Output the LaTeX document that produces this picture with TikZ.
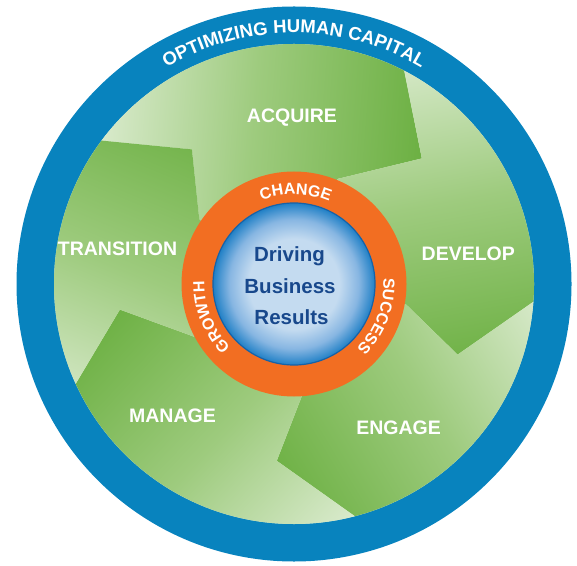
\documentclass[tikz,border=0pt]{standalone}
\usepackage{fontspec}
\setmainfont{Liberation Sans}
\usetikzlibrary{calc,decorations.text}
\definecolor{ringblue}{RGB}{8,131,190}
\definecolor{ringorange}{RGB}{242,110,34}
\definecolor{lightg}{RGB}{226,239,216}
\definecolor{midg}{RGB}{158,203,126}
\definecolor{darkg}{RGB}{106,175,64}
\definecolor{innerlight}{RGB}{196,219,240}
\definecolor{innermid}{RGB}{135,182,226}
\definecolor{inneredge}{RGB}{32,128,198}
\definecolor{innerborder}{RGB}{22,98,168}
\definecolor{textblue}{RGB}{24,72,140}
\pgfdeclarehorizontalshading{arrowshade}{100bp}{color(0bp)=(lightg); color(28bp)=(lightg); color(45bp)=(midg); color(62bp)=(darkg); color(100bp)=(darkg)}
\pgfdeclareradialshading{innerglow}{\pgfpoint{0bp}{0bp}}{color(0bp)=(innerlight); color(14bp)=(innerlight); color(20bp)=(innermid); color(25bp)=(inneredge); color(50bp)=(inneredge)}
\newcommand\outerfont{\fontsize{18.5}{18.5}\selectfont\bfseries}
\newcommand\ringfont{\fontsize{16}{16}\selectfont\bfseries}
\tikzset{
  phaselabel/.style={text=white, font=\fontsize{19.5}{19.5}\selectfont\bfseries, anchor=base, inner sep=0pt},
  corelabel/.style={text=textblue, font=\fontsize{20.5}{20.5}\selectfont\bfseries, anchor=base, inner sep=0pt},
  ringtext/.style={decorate, decoration={text along path, text align=center, text color=white, text={#1}}},
  arrowfill/.style={shading=arrowshade, shading angle=#1}
}
\begin{document}
\begin{tikzpicture}[x=1pt,y=1pt]
\useasboundingbox (0,0) rectangle (577,565);
\coordinate (O) at (294,281);
\coordinate (T1) at (421.8,406.6);
\coordinate (A1) at (404.1,494.8);
\coordinate (B1) at (337.6,386.1);
\coordinate (T2) at (191.9,415.6);
\coordinate (A2) at (99.6,424.6);
\coordinate (B2) at (199.3,345.4);
\coordinate (T3) at (119.9,255.4);
\coordinate (A3) at (73.8,178);
\coordinate (B3) at (193.7,228.4);
\coordinate (T4) at (276.8,104.2);
\coordinate (A4) at (357.9,46.6);
\coordinate (B4) at (302.6,170.8);
\coordinate (T5) at (457.6,210.4);
\coordinate (A5) at (535,264.4);
\coordinate (B5) at (405.9,260.8);
% rings
\fill[ringblue] (O) circle[radius=277.5];
\fill[lightg] (O) circle[radius=240];
\begin{scope}
  \clip (O) circle[radius=240];
  % ACQUIRE
  \begin{scope}
    \clip (O) -- (B2) -- (T2) -- (A2) -- ($(O)!2!(A2)$) -- ($(O)!2!(A1)$) -- (A1) -- (T1) -- (B1) -- cycle;
    \shade[arrowfill=-4.4] ($(O)+(85.6:170)+(-260,-260)$) rectangle ($(O)+(85.6:170)+(260,260)$);
  \end{scope}
  % DEVELOP
  \begin{scope}
    \clip (O) -- (B1) -- (T1) -- (A1) -- ($(O)!2!(A1)$) -- ($(O)!2!(A5)$) -- (A5) -- (T5) -- (B5) -- cycle;
    \shade[arrowfill=-79.45] ($(O)+(10.55:170)+(-260,-260)$) rectangle ($(O)+(10.55:170)+(260,260)$);
  \end{scope}
  % ENGAGE
  \begin{scope}
    \clip (O) -- (B5) -- (T5) -- (A5) -- ($(O)!2!(A5)$) -- ($(O)!2!(A4)$) -- (A4) -- (T4) -- (B4) -- cycle;
    \shade[arrowfill=-149.2] ($(O)+(-59.2:170)+(-260,-260)$) rectangle ($(O)+(-59.2:170)+(260,260)$);
  \end{scope}
  % MANAGE
  \begin{scope}
    \clip (O) -- (B4) -- (T4) -- (A4) -- ($(O)!2!(A4)$) -- ($(O)!2!(A3)$) -- (A3) -- (T3) -- (B3) -- cycle;
    \shade[arrowfill=136.6] ($(O)+(226.6:170)+(-260,-260)$) rectangle ($(O)+(226.6:170)+(260,260)$);
  \end{scope}
  % TRANSITION
  \begin{scope}
    \clip (O) -- (B3) -- (T3) -- (A3) -- ($(O)!2!(A3)$) -- ($(O)!2!(A2)$) -- (A2) -- (T2) -- (B2) -- cycle;
    \shade[arrowfill=67.65] ($(O)+(157.65:170)+(-260,-260)$) rectangle ($(O)+(157.65:170)+(260,260)$);
  \end{scope}
\end{scope}
\fill[ringorange] (O) circle[radius=112.5];
\shadedraw[shading=innerglow, draw=innerborder, line width=1.2pt] (O) circle[radius=81];
% ring texts
\path[ringtext={|\outerfont|OPTIMIZING HUMAN CAPITAL}] ($(O)+(150:251)$) arc[start angle=150, end angle=30, radius=251];
\path[ringtext={|\ringfont|CHANGE}] ($(O)+(129:89.5)$) arc[start angle=129, end angle=49, radius=89.5];
\path[ringtext={|\ringfont|SUCCESS}] ($(O)+(19:89.5)$) arc[start angle=19, end angle=-61, radius=89.5];
\path[ringtext={|\ringfont|GROWTH}] ($(O)+(241.4:89.5)$) arc[start angle=241.4, end angle=161.4, radius=89.5];
% labels
\node[phaselabel] (acq) at (291.9,442.8) {ACQUIRE};
\node[phaselabel] (dev) at (468.3,304.2) {DEVELOP};
\node[phaselabel] (eng) at (398.5,130.3) {ENGAGE};
\node[phaselabel] (man) at (172.5,142.2) {MANAGE};
\node[phaselabel] (tra) at (117.5,309.6) {TRANSITION};
\node[corelabel] (drv) at (289.5,303.3) {Driving};
\node[corelabel] (bus) at (290,271.7) {Business};
\node[corelabel] (res) at (291.5,240.7) {Results};
\end{tikzpicture}
\end{document}
